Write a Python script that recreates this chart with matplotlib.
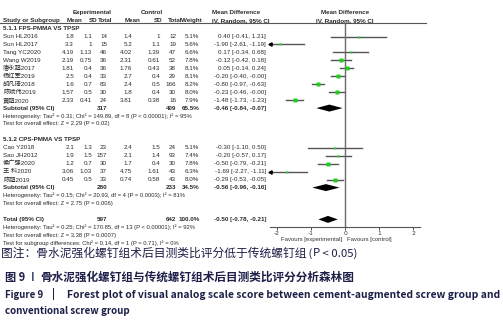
import numpy as np
import matplotlib.pyplot as plt
from matplotlib import transforms

# study data, subgroup 5.1.1
names1 = ["Sun HL2016", "Sun HL2017", "Tang YC2020", "Wang W2019", "唐永超2017",
          "杨红军2019", "胡凡琦2018", "陈斌伟2019", "黄超2020"]
exp_mean1 = ["1.8", "3.3", "4.19", "2.19", "1.81", "2.5", "1.6", "1.57", "2.33"]
exp_sd1 = ["1.1", "1", "1.13", "0.75", "0.4", "0.4", "0.7", "0.5", "0.41"]
exp_n1 = [14, 15, 46, 36, 36, 33, 83, 30, 24]
ctl_mean1 = ["1.4", "5.2", "4.02", "2.31", "1.76", "2.7", "2.4", "1.8", "3.81"]
ctl_sd1 = ["1", "1.1", "1.39", "0.61", "0.43", "0.4", "0.5", "0.4", "0.38"]
ctl_n1 = [12, 19, 47, 52, 38, 29, 166, 30, 16]
weight1 = [5.1, 5.6, 6.6, 7.8, 8.1, 8.1, 8.2, 8.0, 7.9]
md1 = [0.40, -1.90, 0.17, -0.12, 0.05, -0.20, -0.80, -0.23, -1.48]
lo1 = [-0.41, -2.61, -0.34, -0.42, -0.14, -0.40, -0.97, -0.46, -1.73]
hi1 = [1.21, -1.19, 0.68, 0.18, 0.24, -0.0, -0.63, -0.0, -1.23]

# subgroup 5.1.2
names2 = ["Cao Y2018", "Sao JH2012", "侯广强2020", "王 科2020", "陈超2019"]
exp_mean2 = ["2.1", "1.9", "1.2", "3.06", "0.45"]
exp_sd2 = ["1.3", "1.5", "0.7", "1.03", "0.5"]
exp_n2 = [23, 157, 30, 37, 33]
ctl_mean2 = ["2.4", "2.1", "1.7", "4.75", "0.74"]
ctl_sd2 = ["1.5", "1.4", "0.4", "1.61", "0.58"]
ctl_n2 = [24, 93, 30, 43, 43]
weight2 = [5.1, 7.4, 7.8, 6.3, 8.0]
md2 = [-0.30, -0.20, -0.50, -1.69, -0.29]
lo2 = [-1.10, -0.57, -0.79, -2.27, -0.53]
hi2 = [0.50, 0.17, -0.21, -1.11, -0.05]

# pooled estimates: subgroup 1, subgroup 2, total
pool_md = [-0.46, -0.56, -0.50]
pool_lo = [-0.84, -0.96, -0.78]
pool_hi = [-0.07, -0.16, -0.21]
pool_exp_n = [317, 280, 597]
pool_ctl_n = [409, 233, 642]
pool_w = ["65.5%", "34.5%", "100.0%"]

het1 = "Heterogeneity: Tau² = 0.31; Chi² = 149.89, df = 8 (P < 0.00001); I² = 95%"
test1 = "Test for overall effect: Z = 2.29 (P = 0.02)"
het2 = "Heterogeneity: Tau² = 0.15; Chi² = 20.93, df = 4 (P = 0.0003); I² = 81%"
test2 = "Test for overall effect: Z = 2.75 (P = 0.006)"
het_t = "Heterogeneity: Tau² = 0.25; Chi² = 170.85, df = 13 (P < 0.00001); I² = 92%"
test_t = "Test for overall effect: Z = 3.38 (P = 0.0007)"
sub_t = "Test for subgroup differences: Chi² = 0.14, df = 1 (P = 0.71), I² = 0%"

W, H = 503, 326
fig = plt.figure(figsize=(W / 100, H / 100), dpi=100)
ax = fig.add_axes([270 / W, 0, 150 / W, 1])
ax.set_xlim(-2.2, 2.2)
row0, rowh = 12.7, 7.95
ax.set_ylim((H - row0) / rowh, -row0 / rowh)

tx = transforms.blended_transform_factory(fig.transFigure, ax.transData)
tfont = ['Liberation Sans', 'Noto Sans CJK SC']
TS = 4.5


def put(xpx, row, s, ha='left', bold=False, size=TS):
    ax.text(xpx / W, row, s, transform=tx, ha=ha, va='center', fontsize=size,
            fontweight='bold' if bold else 'normal', family=tfont, clip_on=False,
            color='#2a2a2a')


# headers
put(92, 0, "Experimental", ha='center', bold=True)
put(152, 0, "Control", ha='center', bold=True)
put(236, 0, "Mean Difference", ha='center', bold=True)
put(345, 0, "Mean Difference", ha='center', bold=True)
put(3, 1, "Study or Subgroup", bold=True)
for xc, s in [(82, "Mean"), (97, "SD"), (112, "Total"), (140, "Mean"), (162, "SD"),
              (182, "Total"), (202, "Weight")]:
    put(xc, 1, s, ha='right', bold=True)
put(241, 1, "IV, Random, 95% CI", ha='center', bold=True)
put(345, 1, "IV, Random, 95% CI", ha='center', bold=True)
ax.plot([0, 426 / W], [1.3, 1.3], transform=tx, color='#555555', lw=0.8, clip_on=False)

CLR = '#555555'


def study_rows(start, names, em, esd, en, cm, csd, cn, w, md, lo, hi):
    for i in range(len(names)):
        r = start + i
        put(3, r, names[i])
        put(74, r, em[i], ha='right')
        put(92, r, esd[i], ha='right')
        put(107, r, str(en[i]), ha='right')
        put(132, r, cm[i], ha='right')
        put(160, r, csd[i], ha='right')
        put(176, r, str(cn[i]), ha='right')
        put(199, r, f"{w[i]:.1f}%", ha='right')
        put(266, r, f"{md[i]:.2f} [{lo[i]:.2f}, {hi[i]:.2f}]", ha='right')
        left = max(lo[i], -2.2)
        ax.plot([left, min(hi[i], 2.2)], [r, r], color=CLR, lw=1.0, clip_on=False)
        if lo[i] < -2.2:
            ax.plot(-2.2, r, marker='<', ms=2.4, color='black', clip_on=False)
        ax.plot(md[i], r, marker='s', ms=w[i] * 0.28, color='#1ecf1e', mec='none', zorder=3)


def pooled(r, k, label):
    put(3, r, label, bold=True)
    put(107, r, str(pool_exp_n[k]), ha='right', bold=True)
    put(176, r, str(pool_ctl_n[k]), ha='right', bold=True)
    put(200, r, pool_w[k], ha='right', bold=True)
    put(266, r, f"{pool_md[k]:.2f} [{pool_lo[k]:.2f}, {pool_hi[k]:.2f}]", ha='right', bold=True)
    ax.fill([pool_lo[k], pool_md[k], pool_hi[k], pool_md[k]],
            [r, r - 0.44, r, r + 0.44], color='black', lw=0, zorder=3)


HS = 4.2
put(3, 2, "5.1.1 FPS-PMMA VS TPSP", bold=True)
study_rows(3, names1, exp_mean1, exp_sd1, exp_n1, ctl_mean1, ctl_sd1, ctl_n1, weight1, md1, lo1, hi1)
pooled(12, 0, "Subtotal (95% CI)")
put(3, 13, het1, size=HS)
put(3, 14, test1, size=HS)

put(3, 16, "5.1.2 CPS-PMMA VS TPSP", bold=True)
study_rows(17, names2, exp_mean2, exp_sd2, exp_n2, ctl_mean2, ctl_sd2, ctl_n2, weight2, md2, lo2, hi2)
pooled(22, 1, "Subtotal (95% CI)")
put(3, 23, het2, size=HS)
put(3, 24, test2, size=HS)

pooled(26, 2, "Total (95% CI)")
put(3, 27, het_t, size=HS)
put(3, 28, test_t, size=HS)
put(3, 29, sub_t, size=HS)

# zero line and axis
axis_row = 26.9
ax.vlines(0, 1.3, axis_row, color='#6a6a6a', lw=1.0)
for side in ['top', 'left', 'right']:
    ax.spines[side].set_visible(False)
ax.spines['bottom'].set_position(('data', axis_row))
ax.spines['bottom'].set_color('#555555')
ax.spines['bottom'].set_linewidth(0.8)
ax.set_xticks([-2, -1, 0, 1, 2])
ax.set_xticklabels(["-2", "-1", "0", "1", "2"])
ax.tick_params(axis='x', length=2, width=0.6, pad=1, labelsize=4.3, colors='#333333')
ax.set_yticks([])
ax.patch.set_visible(False)
ax.text(-0.08, 28.5, "Favours [experimental]", ha='right', va='center', fontsize=4.3,
        family=tfont, color='#333333')
ax.text(0.05, 28.5, "Favours [control]", ha='left', va='center', fontsize=4.3,
        family=tfont, color='#333333')

# captions
cap = '#1d1f48'
cfont = ['Noto Sans CJK SC', 'DejaVu Sans']
renderer = fig.canvas.get_renderer()


def fit_text(xpx, ypx, s, target_w, size, bold=False, style='normal'):
    t = fig.text(xpx / W, 1 - ypx / H, s, ha='left', va='center', fontsize=size,
                 fontweight='bold' if bold else 'normal', family=cfont, color=cap, style=style)
    if target_w:
        wpx = t.get_window_extent(renderer).width
        t.set_fontsize(size * target_w / wpx)
    return t


def after(t, s, size, gap=0, style='normal', bold=False):
    bb = t.get_window_extent(renderer)
    x = (bb.x1 + gap) / W
    return fig.text(x, t.get_position()[1], s, ha='left', va='center', fontsize=size,
                    family=cfont, color=cap, style=style, fontweight='bold' if bold else 'normal')


t1 = fit_text(1, 253.5, "图注：骨水泥强化螺钉组术后目测类比评分低于传统螺钉组", 305, 8.4)
t1b = after(t1, " (", 8.2)
t1c = after(t1b, "P", 8.2, style='italic')
after(t1c, " < 0.05)", 8.2)

fit_text(5, 277, "图 9", 0, 8.0, bold=True)
fit_text(28, 277, "丨", 0, 7.0, bold=True)
fit_text(40, 277, "骨水泥强化螺钉组与传统螺钉组术后目测类比评分分析森林图", 315, 8.0, bold=True)

fit_text(5, 294.5, "Figure 9", 38, 7.4, bold=True)
fit_text(52, 294.5, "|", 0, 7.4, bold=True)
fit_text(67, 294.5, "Forest plot of visual analog scale score between cement-augmented screw group and",
         431, 7.4, bold=True)
fit_text(5, 311, "conventional screw group", 125, 7.4, bold=True)

fig.savefig("out.png", dpi=100)
